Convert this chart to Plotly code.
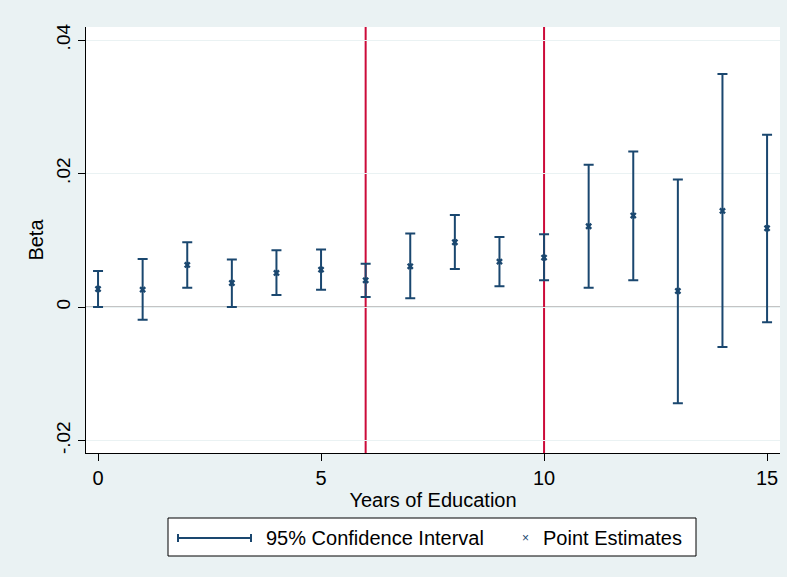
import plotly.graph_objects as go

# Coefficients by years of education, with 95% confidence bounds
years = list(range(16))
beta = [0.0027, 0.0026, 0.0063, 0.0036, 0.0051, 0.0056, 0.0040, 0.0061,
        0.0097, 0.0068, 0.0074, 0.0121, 0.0137, 0.0024, 0.0144, 0.0118]
ci_low = [0.0000, -0.0019, 0.0029, 0.0000, 0.0018, 0.0026, 0.0015, 0.0013,
          0.0057, 0.0031, 0.0040, 0.0029, 0.0040, -0.0144, -0.0060, -0.0023]
ci_high = [0.0054, 0.0072, 0.0097, 0.0071, 0.0085, 0.0086, 0.0065, 0.0110,
           0.0138, 0.0105, 0.0109, 0.0213, 0.0233, 0.0191, 0.0349, 0.0258]
ref_years = [6, 10]
y_ticks = [-0.02, 0, 0.02, 0.04]
y_tick_text = ["-.02", "0", ".02", ".04"]
x_ticks = [0, 5, 10, 15]

NAVY = "#1a476f"
RED = "#cc0b3a"
BG = "#eaf2f3"
FONT = "Liberation Sans, Arial, sans-serif"

W, H = 787, 577
L, R, T, B = 86, 7, 27, 124
PW, PH = W - L - R, H - T - B

fig = go.Figure()

# Confidence intervals drawn as capped error bars (no visible marker)
fig.add_trace(go.Scatter(
    x=years, y=beta, mode="markers",
    marker=dict(size=1, color="rgba(0,0,0,0)"),
    error_y=dict(type="data", symmetric=False,
                 array=[h - b for h, b in zip(ci_high, beta)],
                 arrayminus=[b - l for b, l in zip(beta, ci_low)],
                 color=NAVY, thickness=2, width=5),
    showlegend=False, hoverinfo="skip",
))
# Point estimates
fig.add_trace(go.Scatter(
    x=years, y=beta, mode="markers",
    marker=dict(symbol="x", size=6, color=NAVY, line=dict(width=0)),
    showlegend=False,
))

# Zero reference line and vertical markers at 6 and 10 years
fig.add_hline(y=0, line=dict(color="#c4c4c4", width=2), layer="below")
for xv in ref_years:
    fig.add_vline(x=xv, line=dict(color=RED, width=2), layer="below")


def px_x(p):
    return (p - L) / PW


def px_y(p):
    return (H - B - p) / PH


# Legend box at the bottom
shapes = [
    dict(type="rect", xref="paper", yref="paper",
         x0=px_x(168), x1=px_x(696), y0=px_y(556), y1=px_y(518),
         line=dict(color="black", width=1), fillcolor="white"),
    dict(type="line", xref="paper", yref="paper",
         x0=px_x(178), x1=px_x(251), y0=px_y(538), y1=px_y(538),
         line=dict(color=NAVY, width=2)),
    dict(type="line", xref="paper", yref="paper",
         x0=px_x(178), x1=px_x(178), y0=px_y(534), y1=px_y(542),
         line=dict(color=NAVY, width=2)),
    dict(type="line", xref="paper", yref="paper",
         x0=px_x(251), x1=px_x(251), y0=px_y(534), y1=px_y(542),
         line=dict(color=NAVY, width=2)),
]
for s in shapes:
    fig.add_shape(**s)

annotations = [
    dict(x=px_x(264), y=px_y(538), text="95% Confidence Interval"),
    dict(x=px_x(541), y=px_y(538), text="Point Estimates"),
    dict(x=px_x(520), y=px_y(538), text="\u00d7",
         font=dict(size=12, color=NAVY, family=FONT)),
]
for a in annotations:
    a.setdefault("font", dict(size=20, color="black", family=FONT))
    fig.add_annotation(xref="paper", yref="paper", xanchor="left",
                       yanchor="middle", showarrow=False, **a)

fig.update_layout(
    width=W, height=H,
    margin=dict(l=L, r=R, t=T, b=B, autoexpand=False),
    paper_bgcolor=BG, plot_bgcolor="white",
    font=dict(family=FONT, size=19, color="black"),
    hovermode=False,
    xaxis=dict(
        range=[-0.27, 15.29], tickvals=x_ticks, ticks="outside", ticklen=7,
        tickcolor="black", showline=True, linecolor="black", linewidth=1,
        showgrid=False, zeroline=False,
        title=dict(text="Years of Education", standoff=4,
                   font=dict(size=20)),
        tickfont=dict(size=20),
    ),
    yaxis=dict(
        range=[-0.02187, 0.04195], tickvals=y_ticks, ticktext=y_tick_text,
        tickangle=-90, ticks="outside", ticklen=7, tickcolor="black",
        showline=True, linecolor="black", linewidth=1,
        showgrid=True, gridcolor=BG, gridwidth=1, zeroline=False,
        title=dict(text="Beta", standoff=4, font=dict(size=20)),
        tickfont=dict(size=19),
    ),
)

fig.write_html("out.html")
